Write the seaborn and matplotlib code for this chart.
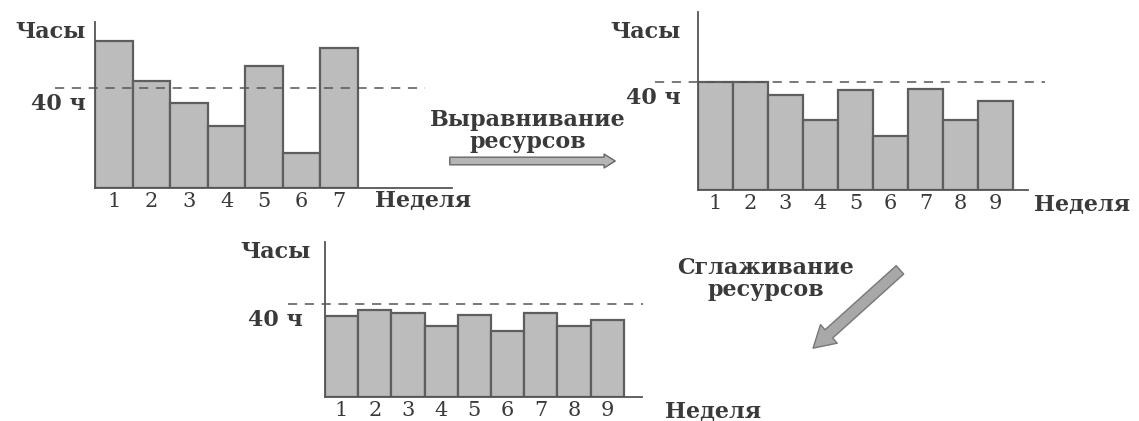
import matplotlib
matplotlib.use("Agg")
import matplotlib.pyplot as plt
from matplotlib.patches import FancyArrowPatch
import seaborn as sns
import pandas as pd

# ---- data ----
weeks_before = [1, 2, 3, 4, 5, 6, 7]
hours_before = [59, 43, 34, 25, 49, 14, 56]

weeks_levelled = [1, 2, 3, 4, 5, 6, 7, 8, 9]
hours_levelled = [40, 40, 35, 26, 37, 20, 37.5, 26, 33]

weeks_smoothed = [1, 2, 3, 4, 5, 6, 7, 8, 9]
hours_smoothed = [35, 37.5, 36, 30.5, 35.5, 28.5, 36, 30.5, 33]

limit_hours = 40
y_label = "Часы"
x_label = "Неделя"
limit_label = "40 ч"
levelling_label = "Выравнивание\nресурсов"
smoothing_label = "Сглаживание\nресурсов"

# ---- style ----
sns.set_style("white")
plt.rcParams["font.family"] = ["DejaVu Serif", "Liberation Serif"]

W, H = 1139, 421
fig = plt.figure(figsize=(W / 100, H / 100), dpi=100)
fig.patch.set_facecolor("white")

BAR = "#bcbcbc"
EDGE = "#5e5e5e"
AX = "#555555"
TXT = "#3a3a3a"
FS = 16


def fx(px):
    return px / W


def fy(py):
    return 1 - py / H


def make_axes(left, right, top, base):
    return fig.add_axes([fx(left), fy(base), (right - left) / W, (base - top) / H])


def draw_panel(ax, weeks, hours, xmax, ymax, dash_from, dash_to):
    df = pd.DataFrame({"week": [str(w) for w in weeks], "hours": hours})
    sns.barplot(data=df, x="week", y="hours", ax=ax, color=BAR, edgecolor=EDGE,
                linewidth=1.6, width=1.0, saturation=1)
    ax.set_xlim(-0.5, xmax)
    ax.set_ylim(0, ymax)
    ax.set_xlabel("")
    ax.set_ylabel("")
    ax.set_yticks([])
    ax.tick_params(axis="x", length=0, pad=3, labelsize=15, labelcolor=TXT)
    for s in ["top", "right"]:
        ax.spines[s].set_visible(False)
    for s in ["left", "bottom"]:
        ax.spines[s].set_color(AX)
        ax.spines[s].set_linewidth(1.3)
    ax.plot([dash_from, dash_to], [limit_hours, limit_hours], ls=(0, (6, 5)),
            color="#555555", lw=1.1, clip_on=False, zorder=5)
    ax.set_facecolor("none")


def label(x, y, s, size=FS, weight="bold", ha="left", va="center"):
    fig.text(fx(x), fy(y), s, fontsize=size, fontweight=weight, color=TXT,
             ha=ha, va=va, linespacing=0.95)


# Panel 1: before levelling
ax1 = make_axes(95, 452, 22, 188)
draw_panel(ax1, weeks_before, hours_before, 9.0, 66.4, -1.56, 8.28)
label(86, 32, y_label, ha="right")
label(86, 104, limit_label, ha="right")
label(375, 201, x_label)

# Panel 2: levelled
ax2 = make_axes(698, 1028, 12, 190)
draw_panel(ax2, weeks_levelled, hours_levelled, 8.93, 65.9, -1.73, 9.41)
label(681, 32, y_label, ha="right")
label(681, 98, limit_label, ha="right")
label(1034, 205, x_label)

# Panel 3: smoothed
ax3 = make_axes(325, 642, 242, 397)
draw_panel(ax3, weeks_smoothed, hours_smoothed, 9.05, 66.7, -1.61, 9.08)
label(311, 252, y_label, ha="right")
label(303, 320, limit_label, ha="right")
label(665, 412, x_label)

# Arrows and captions
label(528, 131, levelling_label, ha="center")
arr1 = FancyArrowPatch((fx(447), fy(161)), (fx(618), fy(161)),
                       transform=fig.transFigure,
                       arrowstyle="simple,head_length=0.8,head_width=1.0,tail_width=0.55",
                       mutation_scale=10, facecolor="#b5b5b5", edgecolor="#666666", lw=1.0)
fig.patches.append(arr1)

label(766, 279, smoothing_label, ha="center")
arr2 = FancyArrowPatch((fx(902), fy(268)), (fx(811), fy(350)),
                       transform=fig.transFigure,
                       arrowstyle="simple,head_length=0.85,head_width=1.0,tail_width=0.45",
                       mutation_scale=18, facecolor="#a8a8a8", edgecolor="#777777", lw=1.0)
fig.patches.append(arr2)

fig.savefig("out.png", dpi=100, facecolor="white")
